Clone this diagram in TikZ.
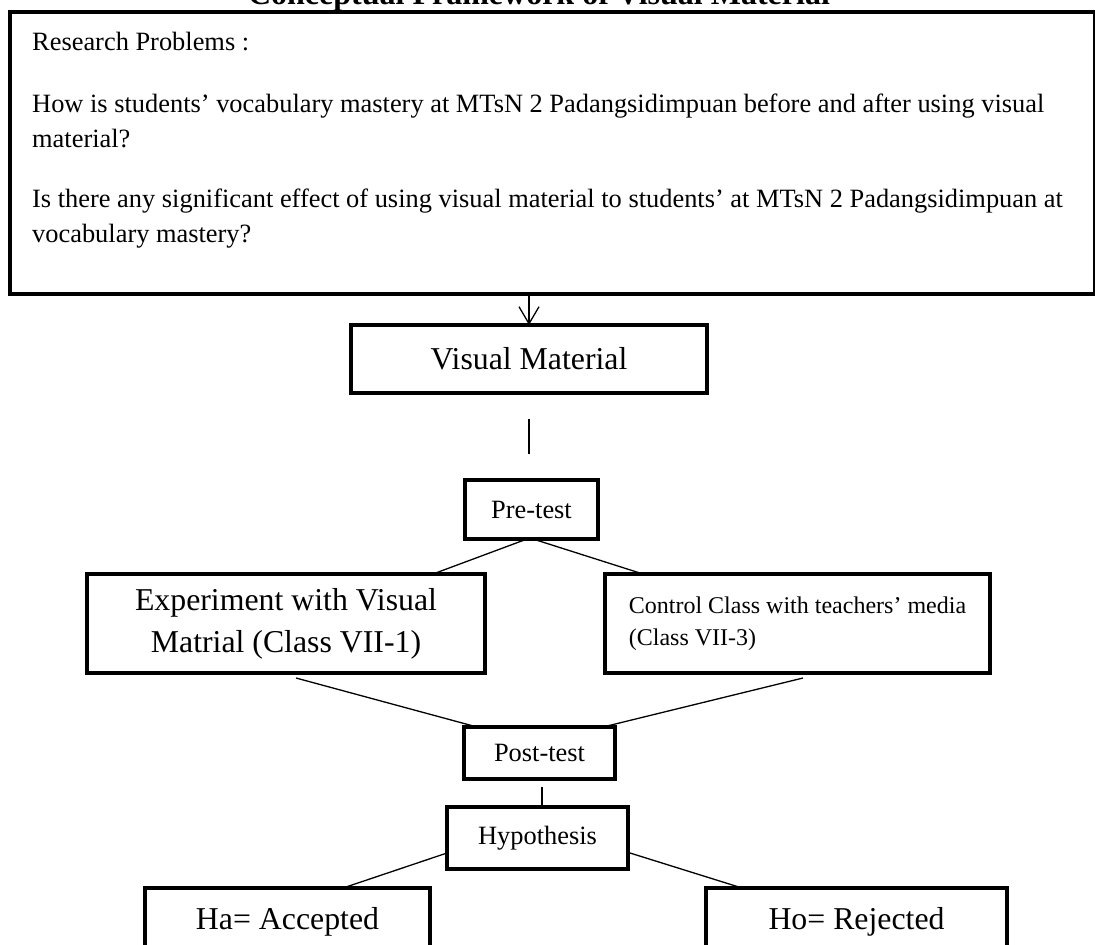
\documentclass[tikz,border=0pt]{standalone}
\usepackage{fontspec}
\setmainfont{Liberation Serif}
\usetikzlibrary{arrows.meta}

\begin{document}
\begin{tikzpicture}[
    x=1pt,
    y=-1pt,
    >={Straight Barb[length=17pt,width=20pt]},
    link/.style={line width=1.3pt},
    box/.style={
      draw,
      line width=4pt,
      inner sep=0pt,
      outer sep=0pt,
      align=center
    },
    txt/.style={font=\fontsize{26.4}{35}\selectfont},
    big/.style={font=\fontsize{31.8}{42}\selectfont}
    ]
    \useasboundingbox (0,0) rectangle (1095,945);

    \node (title) [anchor=base, font=\bfseries\fontsize{32}{38}\selectfont] at (539,4) {Conceptual Framework of Visual Material};

    \node [box] (prob) [minimum width=1085.5pt, minimum height=282pt] at (552.25,153) {};
    \node [txt] (questions) [anchor=base west, align=left, inner sep=0pt] at (32,242) {Research Problems :\\[27pt]
      How is students’ vocabulary mastery at MTsN 2 Padangsidimpuan before and after using visual\\
      material?\\[25pt]
      Is there any significant effect of using visual material to students’ at MTsN 2 Padangsidimpuan at\\
      vocabulary mastery?};

    \node [box, big] (vm) [minimum width=356pt, minimum height=68pt] at (529,359) {Visual Material};
    \node [box, txt] (pre) [minimum width=133pt, minimum height=59pt] at (531.5,509.5) {Pre-test};
    \node [box, big] (exp) [minimum width=398pt, minimum height=99pt] at (286,623.5) {Experiment with Visual\\Matrial (Class VII-1)};
    \node [box] (ctl) [align=left, font=\fontsize{24}{32}\selectfont, minimum width=385pt, minimum height=99pt] at (797.5,623.5) {Control Class with teachers’ media\\(Class VII-3)};
    \node [box, txt] (post) [minimum width=151pt, minimum height=52pt] at (539.5,753) {Post-test};
    \node [box, txt] (hyp) [minimum width=181pt, minimum height=62pt] at (537.5,838) {Hypothesis};
    \node [box, big] (ha) [minimum width=285pt, minimum height=68pt] at (287.5,922) {Ha= Accepted};
    \node [box, big] (ho) [minimum width=301pt, minimum height=68pt] at (856.5,922) {Ho= Rejected};

    \draw[link, ->] (vm.north |- prob.south) -- (vm.north);
    \draw[link, shorten <=26pt, shorten >=26pt] (vm.south) -- (vm.south |- pre.north);
    \draw[link] ([xshift=-4.5pt]pre.south) -- ([xshift=147pt]exp.north);
    \draw[link] ([xshift=1.5pt]pre.south) -- ([xshift=-154.5pt]ctl.north);
    \draw[link] ([xshift=10pt,yshift=-5pt]exp.south) -- ([xshift=13pt]post.north west);
    \draw[link] ([xshift=5.5pt,yshift=-5pt]ctl.south) -- ([xshift=-12pt]post.north east);
    \draw[link, shorten <=8pt] ([xshift=2.5pt]post.south) -- ([xshift=2.5pt]post.south |- hyp.north);
    \draw[link] ([yshift=-15pt]hyp.west) -- ([xshift=55.5pt]ha.north);
    \draw[link] ([xshift=2pt,yshift=-15pt]hyp.east) -- ([xshift=-114.5pt]ho.north);

  \end{tikzpicture}
\end{document}
